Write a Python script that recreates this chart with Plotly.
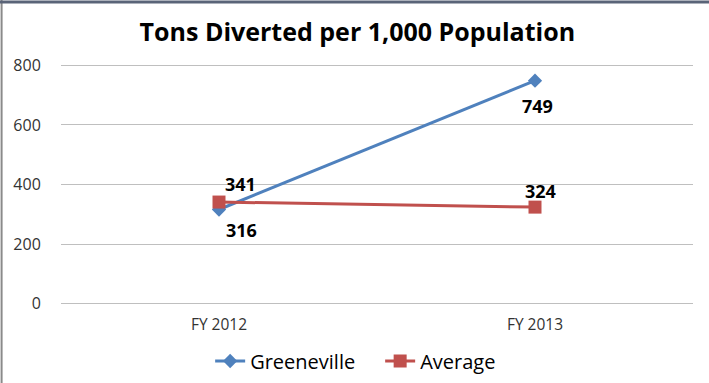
import plotly.graph_objects as go

# Tons diverted per 1,000 population
years = ['FY 2012', 'FY 2013']
greeneville = [316, 749]
average = [341, 324]
y_ticks = [0, 200, 400, 600, 800]

blue = '#4F81BD'
red = '#C0504D'
font = 'Open Sans, Liberation Sans, sans-serif'

fig = go.Figure()

fig.add_trace(go.Scatter(
    x=years, y=greeneville, name='Greeneville',
    mode='lines+markers',
    line=dict(color=blue, width=3),
    marker=dict(symbol='diamond', size=11, color=blue),
))

fig.add_trace(go.Scatter(
    x=years, y=average, name='Average',
    mode='lines+markers',
    line=dict(color=red, width=3),
    marker=dict(symbol='square', size=13, color=red),
))

# data labels: Greeneville below its points, Average above (Excel-style placement)
label_shifts = {
    'Greeneville': [(22, -21), (2, -25)],
    'Average': [(21, 18), (5, 16)],
}
for name, values in (('Greeneville', greeneville), ('Average', average)):
    for i, (yr, v) in enumerate(zip(years, values)):
        dx, dy = label_shifts[name][i]
        fig.add_annotation(
            x=yr, y=v, text=f'<b>{v}</b>', showarrow=False,
            xshift=dx, yshift=dy,
            font=dict(family=font, size=18, color='black'),
        )

fig.update_layout(
    width=709, height=383,
    margin=dict(l=61, r=16, t=63.5, b=77.5, autoexpand=False),
    paper_bgcolor='white', plot_bgcolor='white',
    title=dict(text='<b>Tons Diverted per 1,000 Population</b>',
               x=0.504, xref='container', xanchor='center',
               y=1 - 32 / 383, yanchor='middle',
               font=dict(family=font, size=25, color='black')),
    legend=dict(orientation='h', x=0.236, xanchor='left', xref='paper',
                y=1 - 361 / 383, yanchor='middle', yref='container',
                entrywidth=125,
                font=dict(family=font, size=20, color='black')),
    showlegend=True,
)

fig.update_xaxes(
    type='category', range=[-0.5, 1.5], automargin=False,
    showgrid=False, zeroline=False, showline=False,
    ticks='outside', ticklen=5, tickcolor='rgba(0,0,0,0)',
    tickfont=dict(family=font, size=15.5, color='#333'),
)
fig.update_yaxes(
    range=[-5, 805], tickvals=y_ticks, automargin=False,
    showgrid=True, gridcolor='#BFBFBF', gridwidth=1,
    zeroline=False, showline=False,
    ticks='outside', ticklen=16, tickcolor='rgba(0,0,0,0)',
    tickfont=dict(family=font, size=16, color='#333'),
)

# outer chart border (left and top edges visible in reference)
fig.add_shape(type='line', xref='paper', yref='paper',
              x0=-0.094, x1=-0.094, y0=-0.35, y1=1.3,
              line=dict(color='#8A8A8A', width=2))
fig.add_shape(type='line', xref='paper', yref='paper',
              x0=-0.1, x1=1.03, y0=1.257, y1=1.257,
              line=dict(color='#5A6478', width=3))

fig.write_html('out.html', config={'displayModeBar': False},
               post_script="document.body.style.margin='0';")
